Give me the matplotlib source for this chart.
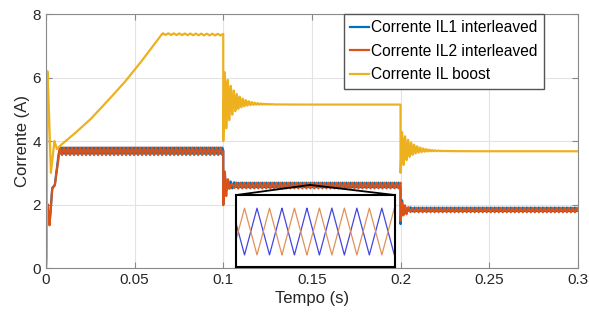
import numpy as np
import matplotlib.pyplot as plt
from matplotlib.patches import ConnectionPatch

plt.rcParams['font.family'] = ['Liberation Sans', 'DejaVu Sans']

# start-up transient, key points (time in s, current in A)
boost_start_t = [0.0, 0.0004, 0.0008, 0.0013, 0.0028, 0.0048, 0.0062, 0.0085, 0.0152,
                 0.025, 0.0344, 0.044, 0.053, 0.0654, 0.1]
boost_start_v = [0.0, 0.4, 6.2, 5.6, 3.0, 4.0, 3.75, 3.88, 4.19,
                 4.68, 5.24, 5.83, 6.45, 7.37, 7.35]
il_start_t = [0.0, 0.0008, 0.002, 0.0035, 0.005, 0.0075, 0.1]
il_start_v = [0.0, 2.0, 1.35, 2.5, 2.6, 3.68, 3.68]

# load steps
step_t = [0.1, 0.2]
boost_after = [5.15, 3.68]
boost_dip = [4.0, 3.0]
boost_hump = [0.25, 0.18]
il_after = [2.60, 1.83]
il_dip = [1.98, 1.42]
ripple_amp = [0.12, 0.09, 0.07]
ripple_period = 0.00226
osc_period = 0.0017

# zoomed view (inset), in switching periods
inset_periods = 6.37
inset_blue_peak = 0.84

t = np.linspace(0, 0.3, 30001)

boost = np.interp(t, boost_start_t, boost_start_v)
il = np.interp(t, il_start_t, il_start_v)
amp = np.full_like(t, ripple_amp[0]) * np.clip((t - 0.006) / 0.002, 0, 1)
for k, ts in enumerate(step_t):
    m = t >= ts
    dt = t[m] - ts
    boost[m] = (boost_after[k]
                + (boost_dip[k] - boost_after[k]) * np.exp(-dt / 0.005) * np.cos(2 * np.pi * dt / osc_period)
                + boost_hump[k] * (1 - np.exp(-dt / 0.004)) * np.exp(-dt / 0.008))
    il[m] = il_after[k] + (il_dip[k] - il_after[k]) * np.exp(-dt / 0.0018) * np.cos(2 * np.pi * dt / osc_period)
    amp[m] = ripple_amp[k + 1]

tri = 4 * np.abs((t / ripple_period) % 1 - 0.5) - 1
il1 = il + 0.02 + 0.8 * amp * tri
il2 = il - amp * tri
boost = boost + 0.025 * np.sin(2 * np.pi * t / 0.0031) * (t > 0.066) * (t < 0.1)

fig = plt.figure(figsize=(5.89, 3.27), dpi=100)
ax = fig.add_axes([0.078, 0.180, 0.903, 0.777])

ax.plot(t, il1, color='#0072BD', lw=1.6, label='Corrente IL1 interleaved')
ax.plot(t, il2, color='#D95319', lw=1.6, label='Corrente IL2 interleaved')
ax.plot(t, boost, color='#EDB120', lw=1.6, label='Corrente IL boost')

ax.set_xlim(0, 0.3)
ax.set_ylim(0, 8)
ax.set_xticks([0, 0.05, 0.1, 0.15, 0.2, 0.25, 0.3])
ax.set_xticklabels(['0', '0.05', '0.1', '0.15', '0.2', '0.25', '0.3'])
ax.set_yticks([0, 2, 4, 6, 8])
ax.grid(True, color='#e3e3e3', lw=0.8)
ax.tick_params(direction='in', top=True, right=True, colors='#888888',
               labelcolor='#262626', labelsize=11, length=4)
for s in ax.spines.values():
    s.set_color('#8a8a8a')
ax.set_xlabel('Tempo (s)', fontsize=12, color='#262626', labelpad=3)
ax.set_ylabel('Corrente (A)', fontsize=12, color='#262626', labelpad=2)

leg = ax.legend(loc='upper right', bbox_to_anchor=(0.936, 1.0), borderaxespad=0,
                fontsize=11.2, handlelength=1.2, handletextpad=0.15,
                labelspacing=0.55, borderpad=0.4, fancybox=False,
                framealpha=1, edgecolor='#555555')

# inset with the ripple of both phases
ins = fig.add_axes([0.4007, 0.1835, 0.27, 0.22])
x = np.linspace(0, inset_periods, 2000)
blue = 2 * np.abs((x - inset_blue_peak) % 1 - 0.5)
ins.plot(x, blue, color='#4545e0', lw=0.9)
ins.plot(x, 1 - blue, color='#e0915a', lw=0.9)
ins.set_xlim(0, inset_periods)
ins.set_ylim(-0.255, 1.277)
ins.set_xticks([])
ins.set_yticks([])
for s in ins.spines.values():
    s.set_color('black')
    s.set_linewidth(1.5)

for corner in [(0, 1), (1, 1)]:
    con = ConnectionPatch(xyA=corner, coordsA=ins.transAxes, xyB=(0.149, 2.62),
                          coordsB=ax.transData, color='black', lw=1.3)
    fig.add_artist(con)

fig.savefig('out.png', dpi=100)
